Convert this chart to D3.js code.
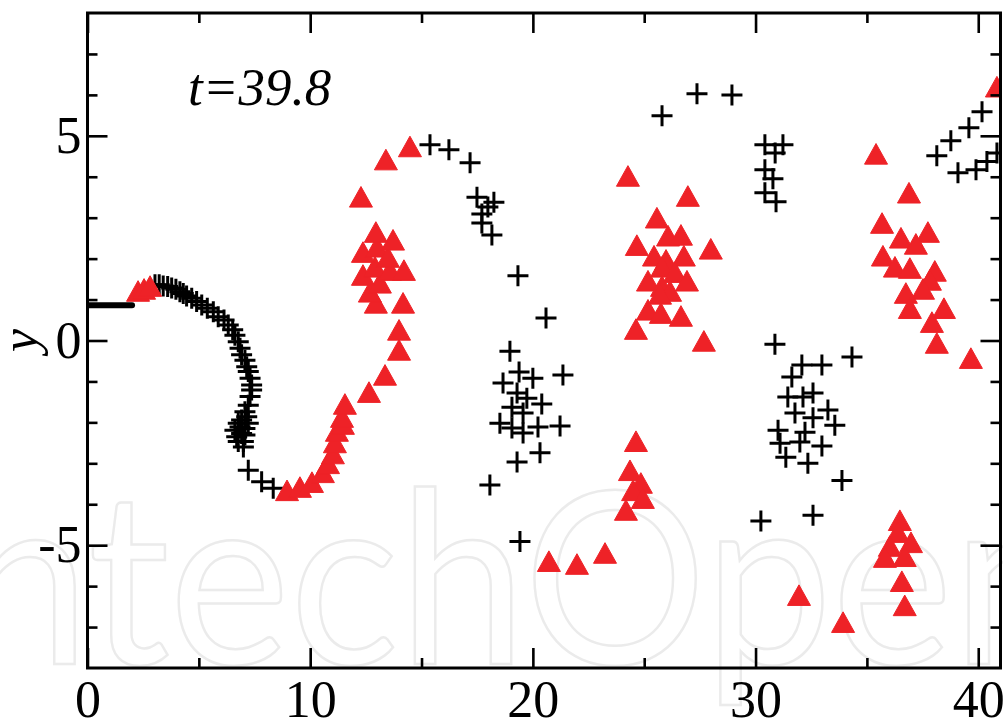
<!DOCTYPE html>
<html>
<head>
<meta charset="utf-8">
<script src="https://cdn.jsdelivr.net/npm/d3@7"></script>
<style>
  body { margin: 0; background: #fff; }
  svg { display: block; }
  .tick text { font-family: "Liberation Serif", "Times New Roman", serif; font-size: 52px; fill: #000; }
</style>
</head>
<body>
<div id="chart"></div>
<script>
// axis ranges and ticks
var xDomain = [0, 41], yDomain = [-8, 8];
var xMajor = [0, 10, 20, 30, 40], xMinor = [5, 15, 25, 35];
var yMajor = [-5, 0, 5];
var yMinor = [-7, -6, -4, -3, -2, -1, 1, 2, 3, 4, 6, 7];
var timeLabel = "t=39.8";

// particles resting on the inflow line (drawn as a thick segment)
var restLine = [[0, 0.86], [2.0, 0.86]];

// black "+" particles
var crossSpiral = [
  [3.03, 1.36], [3.22, 1.36], [3.40, 1.33], [3.60, 1.32], [3.78, 1.28], [3.97, 1.25],
  [4.15, 1.19], [4.30, 1.15], [4.45, 1.09], [4.68, 1.03], [4.90, 0.95], [5.13, 0.87],
  [5.38, 0.79], [5.65, 0.70], [5.87, 0.58], [6.13, 0.50], [6.32, 0.38], [6.52, 0.26],
  [6.62, 0.13], [6.77, -0.03], [6.85, -0.19], [6.92, -0.35], [7.07, -0.48], [7.15, -0.64],
  [7.22, -0.76], [7.30, -0.92], [7.37, -1.09], [7.37, -1.21], [7.30, -1.37], [7.22, -1.58],
  [7.07, -1.74], [7.15, -1.86], [6.92, -1.94], [6.77, -2.02], [7.22, -2.02], [6.85, -2.11],
  [7.07, -2.15], [6.62, -2.19], [6.92, -2.27], [6.70, -2.35], [7.07, -2.31], [7.00, -2.47],
  [6.77, -2.47], [7.00, -2.60], [7.22, -3.17], [7.82, -3.45], [8.34, -3.61]
];
var crossArc = [
  [15.38, 4.78], [16.23, 4.66], [17.18, 4.34], [17.49, 3.50], [18.25, 3.38], [17.98, 3.26],
  [17.71, 3.09], [17.71, 2.87], [18.16, 2.58], [19.33, 1.58], [20.59, 0.55]
];
var crossCluster1 = [
  [18.97, -0.26], [19.38, -0.77], [20.00, -0.92], [21.35, -0.84], [18.66, -1.04], [19.29, -1.28],
  [19.73, -1.41], [20.40, -1.55], [19.06, -1.63], [19.56, -1.77], [18.52, -2.02], [19.06, -2.14],
  [19.56, -2.26], [20.23, -2.11], [21.22, -2.09], [20.32, -2.74], [19.29, -2.97], [18.07, -3.53],
  [19.42, -4.91]
];
var crossTop = [
  [25.80, 5.49], [27.37, 6.03], [28.94, 6.00], [30.42, 4.78], [31.23, 4.78], [30.88, 4.58],
  [30.42, 4.17], [30.78, 3.95], [30.42, 3.61], [30.92, 3.39]
];
var crossCluster2 = [
  [30.87, -0.09], [32.08, -0.60], [32.98, -0.60], [34.33, -0.40], [31.63, -0.89], [31.45, -1.38],
  [32.13, -1.38], [32.58, -1.28], [31.77, -1.77], [33.25, -1.70], [32.58, -1.89], [33.56, -2.07],
  [31.01, -2.19], [32.22, -2.24], [31.99, -2.48], [31.10, -2.51], [32.98, -2.58], [31.36, -2.85],
  [32.35, -3.00], [33.88, -3.42], [32.58, -4.27], [30.24, -4.41]
];
var crossRight = [
  [40.17, 5.59], [39.58, 5.20], [38.77, 4.88], [38.14, 4.51], [39.09, 4.10], [39.90, 4.17],
  [40.39, 4.37], [40.84, 4.58]
];

// red triangle particles
var triStart = [[2.27, 1.21], [2.54, 1.26], [2.81, 1.33]];
var triSpiral = [
  [8.96, -3.66], [9.54, -3.58], [10.08, -3.46], [10.57, -3.22], [10.80, -3.00], [11.02, -2.76],
  [11.11, -2.49], [11.20, -2.21], [11.47, -2.04], [11.43, -1.87], [11.56, -1.55], [12.64, -1.26],
  [13.36, -0.84], [13.99, -0.23], [13.99, 0.26], [14.17, 0.92], [12.95, 0.92], [12.68, 1.19],
  [13.13, 1.41], [12.37, 1.60], [12.91, 1.80], [13.58, 1.72], [14.21, 1.72], [12.37, 2.16],
  [13.00, 2.29], [13.49, 2.04], [13.72, 2.46], [12.95, 2.65], [12.28, 3.51], [13.40, 4.42],
  [14.48, 4.74]
];
var triMiddle = [
  [24.27, 4.02], [26.96, 3.53], [25.57, 3.00], [26.07, 2.56], [26.65, 2.58], [24.67, 2.33],
  [27.99, 2.24], [25.44, 2.07], [25.98, 1.97], [26.78, 2.07], [25.80, 1.80], [26.38, 1.67],
  [25.17, 1.46], [26.92, 1.46], [25.80, 1.33], [26.16, 1.21], [25.71, 1.14], [25.17, 0.75],
  [25.75, 0.67], [26.65, 0.60], [24.63, 0.28], [27.68, -0.01]
];
var triLowMiddle = [
  [24.63, -2.46], [24.36, -3.17], [24.85, -3.48], [24.50, -3.66], [24.94, -3.85], [24.18, -4.14],
  [20.72, -5.39], [21.98, -5.46], [23.24, -5.19]
];
var triRight = [
  [40.84, 6.20], [35.41, 4.56], [36.89, 3.61], [35.68, 2.87], [36.53, 2.51], [37.74, 2.65],
  [37.20, 2.36], [35.72, 2.07], [36.26, 1.80], [36.93, 1.77], [38.05, 1.70], [37.83, 1.48],
  [37.52, 1.26], [36.75, 1.16], [36.93, 0.79], [38.46, 0.79], [37.92, 0.45], [38.14, -0.06],
  [39.67, -0.43]
];
var triLowRight = [
  [36.48, -4.39], [36.39, -4.68], [36.03, -5.02], [36.98, -4.93], [35.81, -5.29], [36.70, -5.27],
  [36.57, -5.88], [36.70, -6.47], [31.95, -6.22], [33.93, -6.88]
];

var crosses = [].concat(crossSpiral, crossArc, crossCluster1, crossTop, crossCluster2, crossRight);
var triangles = [].concat(triStart, triSpiral, triMiddle, triLowMiddle, triRight, triLowRight);

var W = 1003, H = 722;
var plot = { left: 87.5, right: 1000.5, top: 13, bottom: 668 };

var svg = d3.select("#chart").append("svg")
    .attr("width", W)
    .attr("height", H);

var x = d3.scaleLinear().domain(xDomain).range([plot.left, plot.right]);
var y = d3.scaleLinear().domain(yDomain).range([plot.bottom, plot.top]);

// faint publisher watermark behind everything
svg.append("text")
    .attr("x", -100)
    .attr("y", 664)
    .attr("textLength", 1180)
    .attr("lengthAdjust", "spacingAndGlyphs")
    .style("font-family", "Lato, 'Open Sans', sans-serif")
    .style("font-weight", 400)
    .style("font-size", "240px")
    .style("fill", "none")
    .style("stroke", "#ebebeb")
    .style("stroke-width", 2.5)
    .text("IntechOpen");

svg.append("clipPath").attr("id", "plotclip")
  .append("rect")
    .attr("x", plot.left)
    .attr("y", plot.top)
    .attr("width", plot.right - plot.left)
    .attr("height", plot.bottom - plot.top);

var marks = svg.append("g").attr("clip-path", "url(#plotclip)");

// inflow line
marks.append("path")
    .datum(restLine)
    .attr("d", d3.line().x(d => x(d[0])).y(d => y(d[1])))
    .style("fill", "none")
    .style("stroke", "#000")
    .style("stroke-width", 6)
    .style("stroke-linecap", "round");

// black crosses
var a = 10.5;
marks.selectAll(".cross")
    .data(crosses)
  .enter().append("path")
    .attr("class", "cross")
    .attr("transform", d => "translate(" + x(d[0]) + "," + y(d[1]) + ")")
    .attr("d", "M" + (-a) + ",0H" + a + "M0," + (-a) + "V" + a)
    .style("stroke", "#000")
    .style("stroke-width", 3)
    .style("fill", "none");

// red triangles
var tw = 11.5, th = 10.3;
marks.selectAll(".tri")
    .data(triangles)
  .enter().append("path")
    .attr("class", "tri")
    .attr("transform", d => "translate(" + x(d[0]) + "," + y(d[1]) + ")")
    .attr("d", "M0," + (-th) + "L" + tw + "," + th + "L" + (-tw) + "," + th + "Z")
    .style("fill", "#ee2227")
    .style("stroke", "#ee2227")
    .style("stroke-width", 1)
    .style("stroke-linejoin", "round");

// axes: ticks point into the plot on all four sides
function styleAxis(g) {
  g.select(".domain").remove();
  g.selectAll(".tick line").style("stroke", "#000").style("stroke-width", 2.6);
}

svg.append("g")
    .attr("transform", "translate(0," + plot.bottom + ")")
    .call(d3.axisBottom(x).tickValues(xMajor).tickSizeInner(-20).tickSizeOuter(0).tickPadding(12).tickFormat(d3.format("d")))
    .call(styleAxis);
svg.append("g")
    .attr("transform", "translate(0," + plot.bottom + ")")
    .call(d3.axisBottom(x).tickValues(xMinor).tickSizeInner(-10).tickSizeOuter(0).tickFormat(""))
    .call(styleAxis);
svg.append("g")
    .attr("transform", "translate(0," + plot.top + ")")
    .call(d3.axisTop(x).tickValues(xMajor).tickSizeInner(-20).tickSizeOuter(0).tickFormat(""))
    .call(styleAxis);
svg.append("g")
    .attr("transform", "translate(0," + plot.top + ")")
    .call(d3.axisTop(x).tickValues(xMinor).tickSizeInner(-10).tickSizeOuter(0).tickFormat(""))
    .call(styleAxis);

svg.append("g")
    .attr("transform", "translate(" + plot.left + ",0)")
    .call(d3.axisLeft(y).tickValues(yMajor).tickSizeInner(-20).tickSizeOuter(0).tickPadding(6).tickFormat(d3.format("d")))
    .call(styleAxis);
svg.append("g")
    .attr("transform", "translate(" + plot.left + ",0)")
    .call(d3.axisLeft(y).tickValues(yMinor).tickSizeInner(-10).tickSizeOuter(0).tickFormat(""))
    .call(styleAxis);
svg.append("g")
    .attr("transform", "translate(" + plot.right + ",0)")
    .call(d3.axisRight(y).tickValues(yMajor).tickSizeInner(-20).tickSizeOuter(0).tickFormat(""))
    .call(styleAxis);
svg.append("g")
    .attr("transform", "translate(" + plot.right + ",0)")
    .call(d3.axisRight(y).tickValues(yMinor).tickSizeInner(-10).tickSizeOuter(0).tickFormat(""))
    .call(styleAxis);

// plain hyphen like the original "-5"
svg.selectAll(".tick text").text(function () { return this.textContent.replace("\u2212", "-"); });

// frame
svg.append("rect")
    .attr("x", plot.left)
    .attr("y", plot.top)
    .attr("width", plot.right - plot.left)
    .attr("height", plot.bottom - plot.top)
    .style("fill", "none")
    .style("stroke", "#000")
    .style("stroke-width", 3);

// y axis title
svg.append("text")
    .attr("transform", "translate(37," + y(0) + ") rotate(-90)")
    .style("text-anchor", "middle")
    .style("font-family", "'Liberation Serif', 'Times New Roman', serif")
    .style("font-style", "italic")
    .style("font-size", "52px")
    .text("y");

// time stamp
svg.append("text")
    .attr("x", 188)
    .attr("y", 105)
    .style("font-family", "'Liberation Serif', 'Times New Roman', serif")
    .style("font-style", "italic")
    .style("font-size", "53px")
    .text(timeLabel);
</script>
</body>
</html>
